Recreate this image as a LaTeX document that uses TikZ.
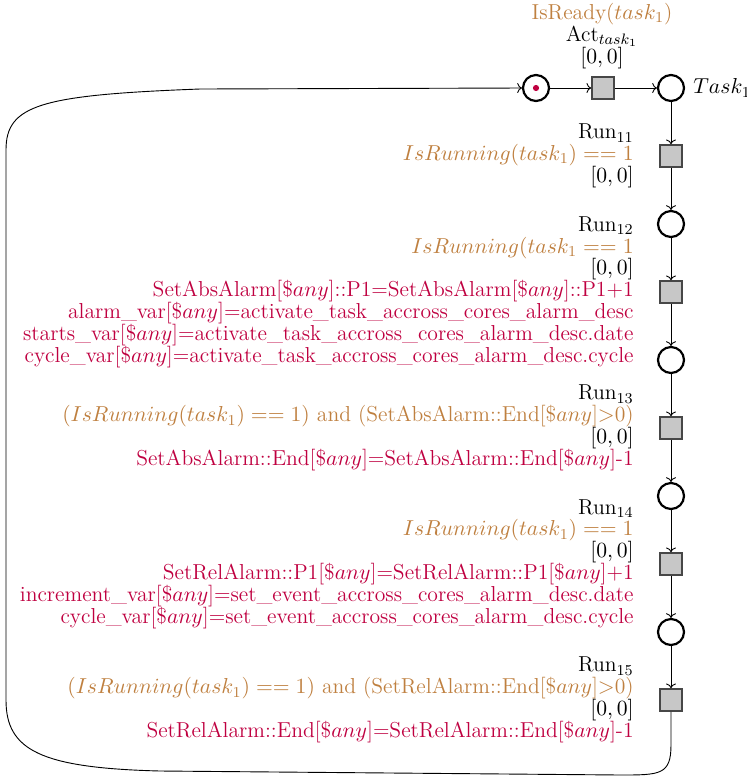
\documentclass[tikz,border=0pt]{standalone}
\usepackage{fix-cm}
\usetikzlibrary{arrows.meta}
\newcommand\brn[1]{\textcolor{brown}{#1}}
\newcommand\prp[1]{\textcolor{purple}{#1}}
\newcommand\anyv{[\$$any$]}
\begin{document}
\begin{tikzpicture}[x=0.55pt,y=-0.55pt,
 every node/.style={font=\fontsize{11.9}{12}\selectfont},
 place/.style={circle,draw=black,line width=1.2pt,minimum size=14.3pt,inner sep=0pt},
 trans/.style={rectangle,draw=black!72,fill=black!22,line width=1.2pt,minimum size=11.8pt,inner sep=0pt},
 arc/.style={-{To[width=5.5pt,length=2.6pt]},line width=0.5pt},
 lbl/.style={anchor=east,align=right,inner sep=0pt}]
\useasboundingbox (0,0) rectangle (747,777);
% places and transitions
\node[place] (P0) at (536,88) {};
\fill[purple] (P0.center) circle (1.7pt);
\node[trans] (Act) at (603,88) {};
\node[place] (Task) at (671,88) {};
\node[trans] (T11) at (671,156) {};
\node[place] (P12) at (671,224) {};
\node[trans] (T12) at (671,292) {};
\node[place] (P13) at (671,360) {};
\node[trans] (T13) at (671,428) {};
\node[place] (P14) at (671,496) {};
\node[trans] (T14) at (671,564) {};
\node[place] (P15) at (671,632) {};
\node[trans] (T15) at (671,700) {};
% labels
\node[align=center,inner sep=0pt] (LAct) at (602,36) {\brn{IsReady($task_1$)}\\ Act$_{task_1}$\\ $[0,0]$};
\node[anchor=west,inner sep=0pt] (LTask) at (693,88) {$Task_1$};
\node[lbl] (L11) at (634,156) {Run$_{11}$\\ \brn{$IsRunning(task_1) == 1$}\\ $[0,0]$};
\node[lbl] (L12) at (634,292) {Run$_{12}$\\ \brn{$IsRunning(task_1 == 1$}\\ $[0,0]$\\
 \prp{SetAbsAlarm\anyv::P1=SetAbsAlarm\anyv::P1+1}\\
 \prp{alarm\_var\anyv=activate\_task\_accross\_cores\_alarm\_desc}\\
 \prp{starts\_var\anyv=activate\_task\_accross\_cores\_alarm\_desc.date}\\
 \prp{cycle\_var\anyv=activate\_task\_accross\_cores\_alarm\_desc.cycle}};
\node[lbl] (L13) at (634,428) {Run$_{13}$\\ \brn{$(IsRunning(task_1) == 1)$ and (SetAbsAlarm::End\anyv${>}$0)}\\ $[0,0]$\\
 \prp{SetAbsAlarm::End\anyv=SetAbsAlarm::End\anyv-1}};
\node[lbl] (L14) at (634,564) {Run$_{14}$\\ \brn{$IsRunning(task_1) == 1$}\\ $[0,0]$\\
 \prp{SetRelAlarm::P1\anyv=SetRelAlarm::P1\anyv+1}\\
 \prp{increment\_var\anyv=set\_event\_accross\_cores\_alarm\_desc.date}\\
 \prp{cycle\_var\anyv=set\_event\_accross\_cores\_alarm\_desc.cycle}};
\node[lbl] (L15) at (634,700) {Run$_{15}$\\ \brn{$(IsRunning(task_1) == 1)$ and (SetRelAlarm::End\anyv${>}$0)}\\ $[0,0]$\\
 \prp{SetRelAlarm::End\anyv=SetRelAlarm::End\anyv-1}};
% arcs
\draw[arc] (P0) -- (Act);
\draw[arc] (Act) -- (Task);
\draw[arc] (Task) -- (T11);
\draw[arc] (T11) -- (P12);
\draw[arc] (P12) -- (T12);
\draw[arc] (T12) -- (P13);
\draw[arc] (P13) -- (T13);
\draw[arc] (T13) -- (P14);
\draw[arc] (P14) -- (T14);
\draw[arc] (T14) -- (P15);
\draw[arc] (P15) -- (T15);
\draw[arc] (T15.south) -- (671,745) .. controls (671,775) and (660,775) .. (620,775)
  -- (160,771) .. controls (40,768) and (6,750) .. (6,700) -- (6,150)
  .. controls (6,105) and (40,95) .. (200,89) -- (P0.west);
\end{tikzpicture}
\end{document}
